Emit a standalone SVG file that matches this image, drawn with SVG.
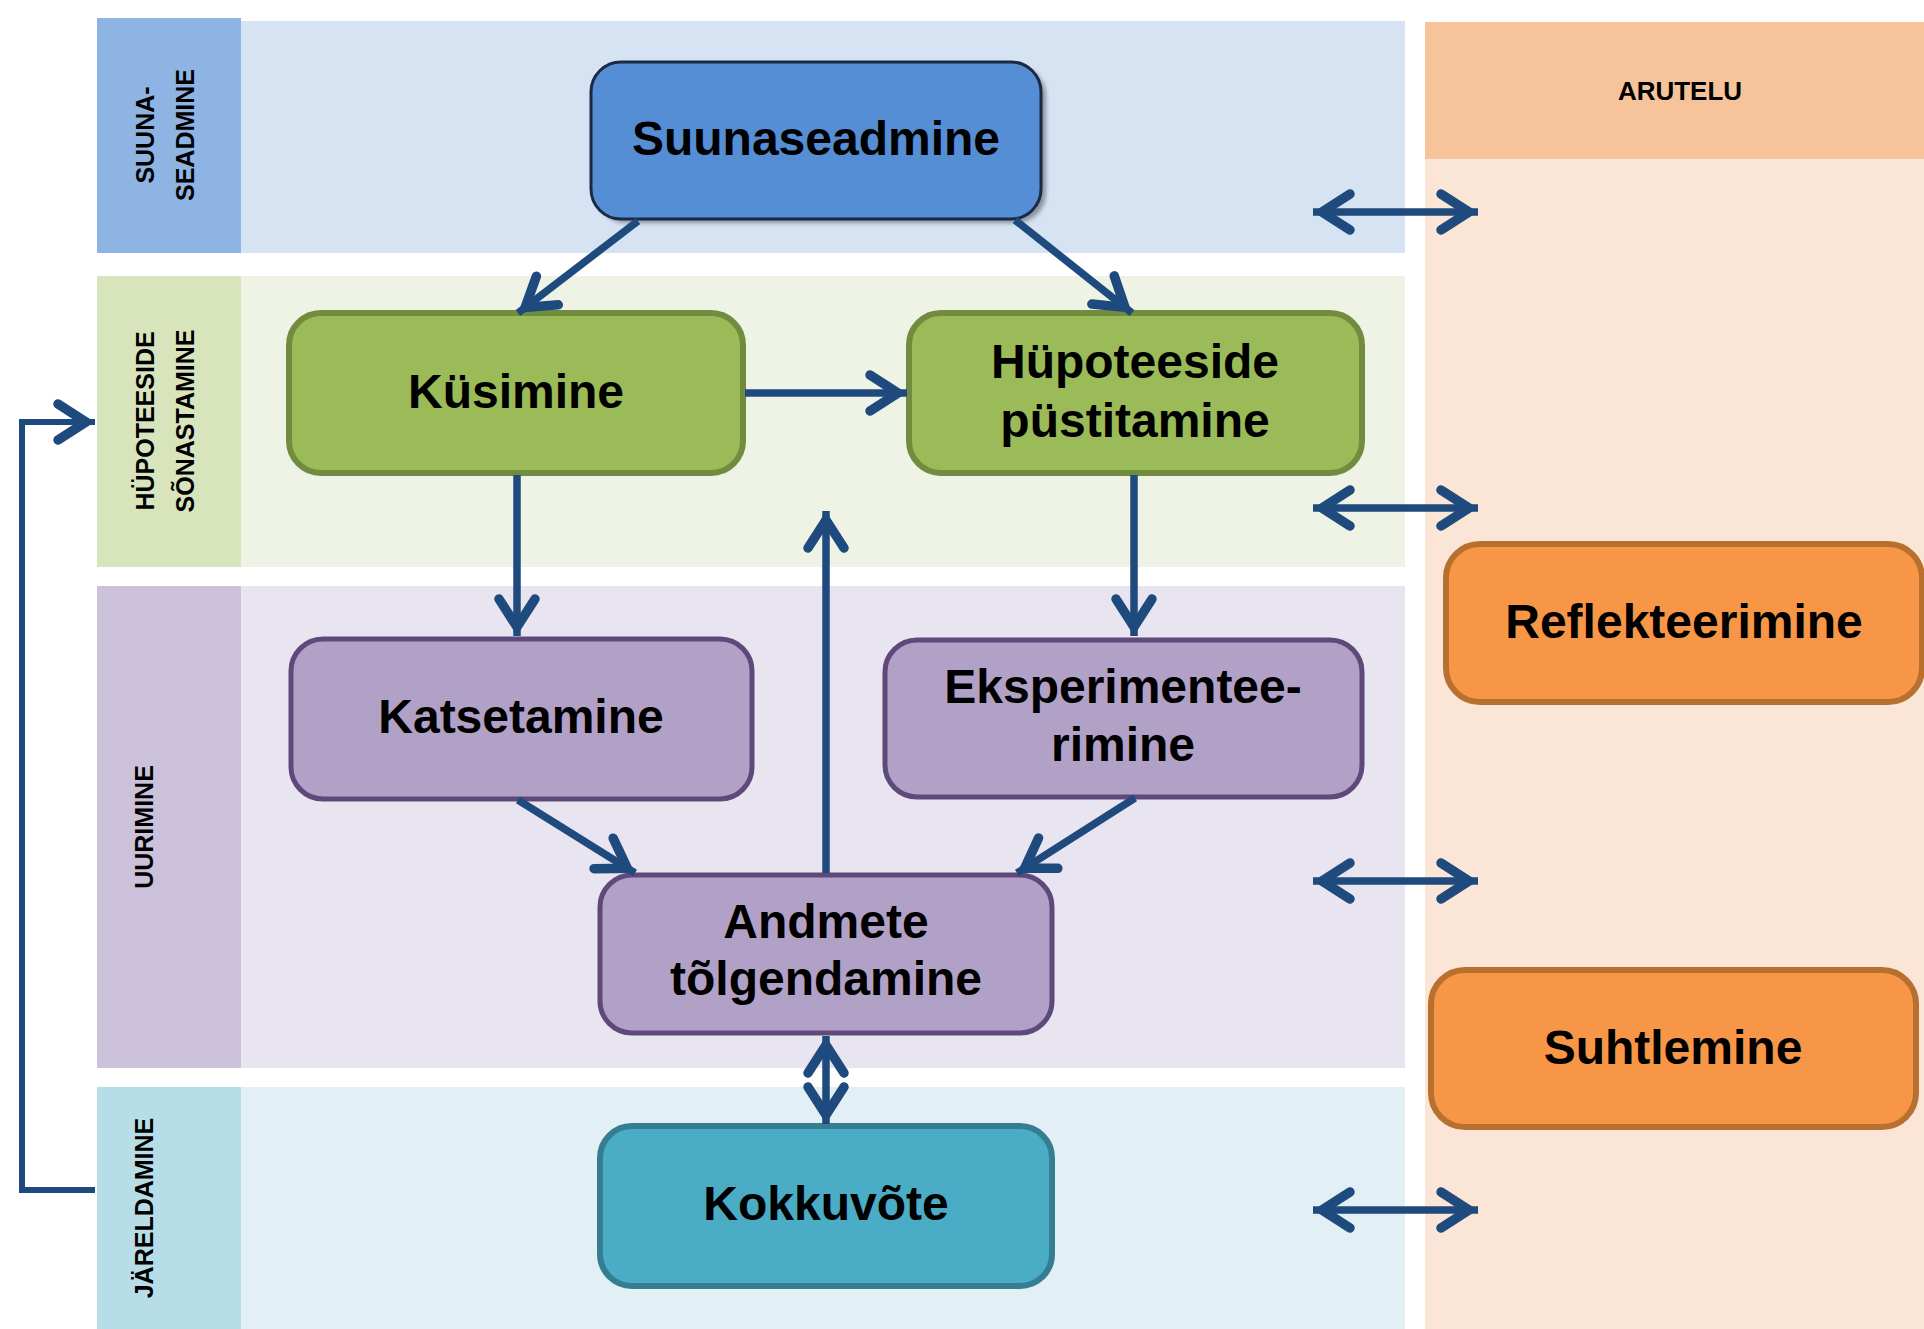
<svg xmlns="http://www.w3.org/2000/svg" width="1924" height="1329" viewBox="0 0 1924 1329">
<style>
.lbl{font-family:"Liberation Sans",Arial,sans-serif;font-weight:bold;font-size:25px;fill:#000}
.nt{font-family:"Liberation Sans",Arial,sans-serif;font-weight:bold;font-size:48px;fill:#000;text-anchor:middle}
.con{fill:none;stroke:#1F4A7E;stroke-width:7.5;stroke-linecap:butt;stroke-linejoin:miter}
.green{fill:#9BBB59;stroke:#728C3F;stroke-width:6}
.purple{fill:#B2A1C7;stroke:#5F497A;stroke-width:5}
.orange{fill:#F79646;stroke:#B8702F;stroke-width:6}
</style>
<defs>
<marker id="ah" markerUnits="userSpaceOnUse" viewBox="-48 -28 56 56" refX="0" refY="0" markerWidth="56" markerHeight="56" orient="auto-start-reverse" overflow="visible">
<path d="M-37,-18 L-9,0 L-37,18" fill="none" stroke="#1F4A7E" stroke-width="9.5" stroke-linecap="round" stroke-linejoin="miter" stroke-miterlimit="6"/>
</marker>
<filter id="sh" x="-10%" y="-10%" width="130%" height="130%">
<feGaussianBlur stdDeviation="2"/>
</filter>
</defs>
<rect width="1924" height="1329" fill="#FFFFFF"/>
<!-- lanes -->
<g id="lane-suuna">
<rect x="241" y="21" width="1164" height="232" fill="#D6E3F3"/>
<rect x="97" y="18" width="144" height="235" fill="#8EB4E3"/>
<text class="lbl" transform="translate(154,135) rotate(-90)" text-anchor="middle">SUUNA-</text>
<text class="lbl" transform="translate(194,135) rotate(-90)" text-anchor="middle">SEADMINE</text>
</g>
<g id="lane-hypo">
<rect x="241" y="276" width="1164" height="291" fill="#EFF3E6"/>
<rect x="97" y="276" width="144" height="291" fill="#D8E4BC"/>
<text class="lbl" transform="translate(154,421) rotate(-90)" text-anchor="middle">HÜPOTEESIDE</text>
<text class="lbl" transform="translate(194,421) rotate(-90)" text-anchor="middle">SÕNASTAMINE</text>
</g>
<g id="lane-uurimine">
<rect x="241" y="586" width="1164" height="482" fill="#E9E5F0"/>
<rect x="97" y="586" width="144" height="482" fill="#CCC1DA"/>
<text class="lbl" transform="translate(153,827) rotate(-90)" text-anchor="middle">UURIMINE</text>
</g>
<g id="lane-jareldamine">
<rect x="241" y="1087" width="1164" height="242" fill="#E2EFF4"/>
<rect x="97" y="1087" width="144" height="242" fill="#B7DEE8"/>
<text class="lbl" transform="translate(153,1208) rotate(-90)" text-anchor="middle">JÄRELDAMINE</text>
</g>
<g id="lane-arutelu">
<rect x="1425" y="159" width="499" height="1170" fill="#FBE5D6"/>
<rect x="1425" y="22" width="499" height="137" fill="#F6C39A"/>
<text class="lbl" x="1680" y="100" text-anchor="middle" style="font-size:26px">ARUTELU</text>
</g>
<!-- nodes -->
<g id="suunaseadmine">
<rect x="596" y="66" width="450" height="157" rx="30" fill="#000" opacity="0.35" filter="url(#sh)"/>
<rect x="591" y="62" width="450" height="157" rx="30" fill="#558ED5" stroke="#1B2A44" stroke-width="3"/>
<text class="nt" x="816" y="155">Suunaseadmine</text>
</g>
<g id="kusimine">
<rect x="289" y="313" width="454" height="160" rx="32" class="green"/>
<text class="nt" x="516" y="408">Küsimine</text>
</g>
<g id="hupoteeside">
<rect x="909" y="313" width="453" height="160" rx="32" class="green"/>
<text class="nt" x="1135" y="378">Hüpoteeside</text>
<text class="nt" x="1135" y="437">püstitamine</text>
</g>
<g id="katsetamine">
<rect x="291" y="639" width="461" height="160" rx="32" class="purple"/>
<text class="nt" x="521" y="733">Katsetamine</text>
</g>
<g id="eksperimenteerimine">
<rect x="885" y="640" width="477" height="157" rx="32" class="purple"/>
<text class="nt" x="1123" y="703">Eksperimentee-</text>
<text class="nt" x="1123" y="761">rimine</text>
</g>
<g id="andmete">
<rect x="600" y="875" width="452" height="158" rx="32" class="purple"/>
<text class="nt" x="826" y="938">Andmete</text>
<text class="nt" x="826" y="995">tõlgendamine</text>
</g>
<g id="kokkuvote">
<rect x="600" y="1126" width="452" height="160" rx="32" fill="#4BACC6" stroke="#357D91" stroke-width="6"/>
<text class="nt" x="826" y="1220">Kokkuvõte</text>
</g>
<g id="reflekteerimine">
<rect x="1446" y="544" width="476" height="158" rx="34" class="orange"/>
<text class="nt" x="1684" y="638">Reflekteerimine</text>
</g>
<g id="suhtlemine">
<rect x="1431" y="970" width="485" height="157" rx="34" class="orange"/>
<text class="nt" x="1673" y="1064">Suhtlemine</text>
</g>
<!-- connectors -->
<g id="connectors">
<line class="con" x1="638" y1="221" x2="518" y2="313" marker-end="url(#ah)"/>
<line class="con" x1="1015" y1="220" x2="1132" y2="313" marker-end="url(#ah)"/>
<line class="con" x1="745" y1="393" x2="907" y2="393" marker-end="url(#ah)"/>
<line class="con" x1="517" y1="475" x2="517" y2="636" marker-end="url(#ah)"/>
<line class="con" x1="1134" y1="475" x2="1134" y2="636" marker-end="url(#ah)"/>
<line class="con" x1="518" y1="800" x2="635" y2="873" marker-end="url(#ah)"/>
<line class="con" x1="1135" y1="798" x2="1017" y2="873" marker-end="url(#ah)"/>
<line class="con" x1="826" y1="873" x2="826" y2="511" marker-end="url(#ah)"/>
<line class="con" x1="826" y1="1036" x2="826" y2="1124" marker-start="url(#ah)" marker-end="url(#ah)"/>
<polyline class="con" style="stroke-width:6" points="95,1190 22,1190 22,422 95,422" marker-end="url(#ah)"/>
<line class="con" x1="1313" y1="212" x2="1478" y2="212" marker-start="url(#ah)" marker-end="url(#ah)"/>
<line class="con" x1="1313" y1="508" x2="1478" y2="508" marker-start="url(#ah)" marker-end="url(#ah)"/>
<line class="con" x1="1313" y1="881" x2="1478" y2="881" marker-start="url(#ah)" marker-end="url(#ah)"/>
<line class="con" x1="1313" y1="1210" x2="1478" y2="1210" marker-start="url(#ah)" marker-end="url(#ah)"/>
</g>
</svg>
